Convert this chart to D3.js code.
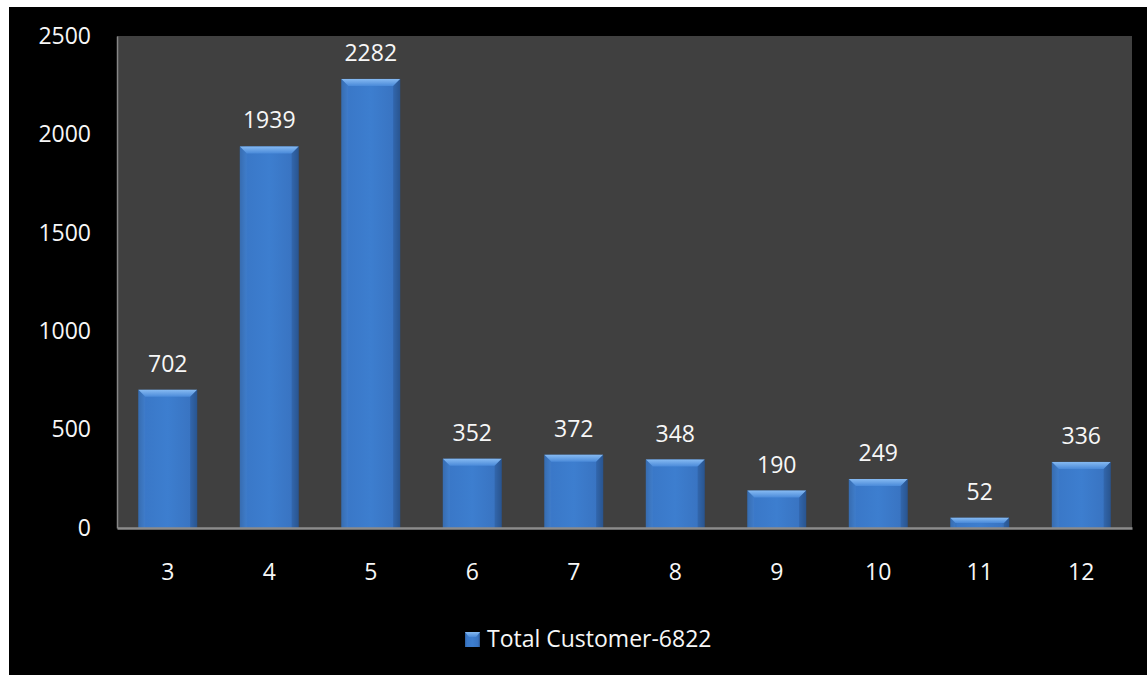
<!DOCTYPE html>
<html>
<head>
<meta charset="utf-8">
<script src="https://cdn.jsdelivr.net/npm/d3@7"></script>
<style>
	body { margin: 0; background: #fff; }
	text { font-family: "Open Sans", sans-serif; fill: #f7f7f7; }
</style>
</head>
<body>
<svg id="chart" width="1147" height="675"></svg>
<script>
const CATEGORIES = ['3', '4', '5', '6', '7', '8', '9', '10', '11', '12'];
const CUSTOMERS = [702, 1939, 2282, 352, 372, 348, 190, 249, 52, 336];
const Y_TICKS = [0, 500, 1000, 1500, 2000, 2500];
const SERIES_NAME = 'Total Customer-6822';

const PLOT = { left: 117, top: 36, right: 1132, bottom: 528 };
const FONT_SIZE = 23;

const svg = d3.select('#chart');

// gradients for the bevelled bars
const defs = svg.append('defs');
const body = defs.append('linearGradient').attr('id', 'barBody')
	.attr('x1', 0).attr('x2', 1).attr('y1', 0).attr('y2', 0);
body.append('stop').attr('offset', '0%').attr('stop-color', '#2d5f9f');
body.append('stop').attr('offset', '12%').attr('stop-color', '#3a78c8');
body.append('stop').attr('offset', '50%').attr('stop-color', '#3d7ecf');
body.append('stop').attr('offset', '88%').attr('stop-color', '#3974c2');
body.append('stop').attr('offset', '100%').attr('stop-color', '#264f86');

const topG = defs.append('linearGradient').attr('id', 'barTop')
	.attr('x1', 0).attr('x2', 0).attr('y1', 0).attr('y2', 1);
topG.append('stop').attr('offset', '0%').attr('stop-color', '#86baf2');
topG.append('stop').attr('offset', '100%').attr('stop-color', '#4a8ad9');

// black card
svg.append('rect')
	.attr('x', 9).attr('y', 7)
	.attr('width', 1147 - 9).attr('height', 675 - 7)
	.attr('fill', '#000');

svg.append('rect')
	.attr('x', PLOT.left).attr('y', PLOT.top)
	.attr('width', PLOT.right - PLOT.left).attr('height', PLOT.bottom - PLOT.top)
	.attr('fill', '#404040');

const x = d3.scaleBand()
	.domain(CATEGORIES)
	.range([PLOT.left, PLOT.right])
	.paddingInner(0.42)
	.paddingOuter(0.21);

const y = d3.scaleLinear()
	.domain([0, 2500])
	.range([PLOT.bottom, PLOT.top]);

const data = CATEGORIES.map((c, i) => ({ cat: c, value: CUSTOMERS[i] }));

const bars = svg.append('g').selectAll('g')
	.data(data)
	.enter()
	.append('g');

bars.append('rect')
	.attr('x', d => x(d.cat))
	.attr('y', d => y(d.value))
	.attr('width', x.bandwidth())
	.attr('height', d => y(0) - y(d.value))
	.attr('fill', 'url(#barBody)');

// top bevel
bars.append('polygon')
	.attr('points', d => {
		const x0 = x(d.cat), x1 = x0 + x.bandwidth(), yt = y(d.value);
		const b = Math.min(7, (y(0) - yt) / 2);
		return [[x0, yt], [x1, yt], [x1 - b, yt + b], [x0 + b, yt + b]].join(' ');
	})
	.attr('fill', 'url(#barTop)');

// left bevel strip
bars.append('polygon')
	.attr('points', d => {
		const x0 = x(d.cat), yt = y(d.value);
		const b = Math.min(7, (y(0) - yt) / 2);
		return [[x0, yt], [x0 + b, yt + b], [x0 + b, y(0)], [x0, y(0)]].join(' ');
	})
	.attr('fill', '#4a86d2')
	.attr('opacity', 0.35);

// right bevel strip
bars.append('polygon')
	.attr('points', d => {
		const x1 = x(d.cat) + x.bandwidth(), yt = y(d.value);
		const b = Math.min(7, (y(0) - yt) / 2);
		return [[x1, yt], [x1 - b, yt + b], [x1 - b, y(0)], [x1, y(0)]].join(' ');
	})
	.attr('fill', '#2b5a98')
	.attr('opacity', 0.5);

bars.append('text')
	.text(d => d.value)
	.attr('x', d => x(d.cat) + x.bandwidth() / 2)
	.attr('y', d => y(d.value) - 18)
	.attr('text-anchor', 'middle')
	.attr('font-size', FONT_SIZE);

// axes
const yAxis = svg.append('g')
	.attr('transform', `translate(${PLOT.left},0)`)
	.call(d3.axisLeft(y).tickValues(Y_TICKS).tickFormat(d3.format('d')).tickSize(0).tickPadding(26));
yAxis.select('.domain').attr('stroke', '#868686').attr('stroke-width', 1.5);
yAxis.selectAll('text')
	.attr('font-size', FONT_SIZE)
	.attr('fill', '#f7f7f7')
	.style('font-family', '"Open Sans", sans-serif');

const xAxis = svg.append('g')
	.attr('transform', `translate(0,${PLOT.bottom})`)
	.call(d3.axisBottom(x).tickSize(0).tickPadding(36));
xAxis.select('.domain').attr('stroke', '#8c8c8c').attr('stroke-width', 2.5);
xAxis.selectAll('text')
	.attr('font-size', FONT_SIZE)
	.attr('fill', '#f7f7f7')
	.style('font-family', '"Open Sans", sans-serif');

// legend
const legend = svg.append('g').attr('transform', 'translate(465,632)');
legend.append('rect')
	.attr('width', 15).attr('height', 15)
	.attr('fill', 'url(#barBody)');
legend.append('polygon')
	.attr('points', '0,0 15,0 11,5 4,5')
	.attr('fill', 'url(#barTop)');
legend.append('text')
	.text(SERIES_NAME)
	.attr('x', 22)
	.attr('y', 15)
	.attr('font-size', FONT_SIZE);
</script>
</body>
</html>
